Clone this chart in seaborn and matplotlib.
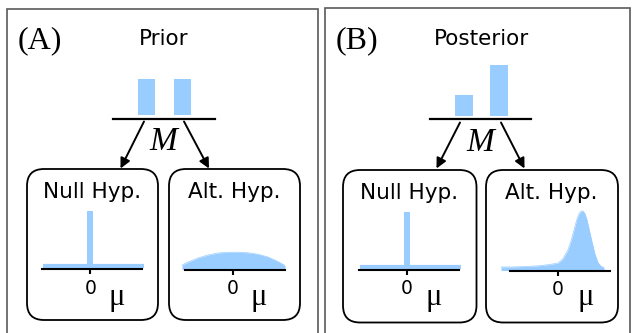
import matplotlib
matplotlib.use("Agg")
import matplotlib.pyplot as plt
from matplotlib.patches import FancyBboxPatch, FancyArrowPatch
import seaborn as sns

# ---- model probabilities (bars above "M") ----
model_labels = ["Null", "Alt"]
prior_probs = [0.5, 0.5]
posterior_probs = [0.29, 0.71]

# ---- null hypothesis: point mass at mu = 0, zero density elsewhere ----
null_grid = [-2.35, 2.7]
null_density = [0.0, 0.0]
null_spike_mu = [0.0]
null_spike_mass = [1.0]

# ---- alternative hypothesis, prior density over mu ----
alt_prior_mu = [-2.55, -2.25, -1.75, -1.25, -0.75, -0.25, 0.25, 0.75, 1.25, 1.75, 2.25, 2.6]
alt_prior_density = [0.027, 0.081, 0.154, 0.208, 0.244, 0.258, 0.258, 0.248, 0.222, 0.172, 0.090, 0.018]

# ---- alternative hypothesis, posterior density over mu ----
alt_post_mu = [-2.85, -2.25, -1.5, -1.0, -0.5, 0.0, 0.25, 0.5, 0.65, 0.8, 0.95, 1.05,
               1.15, 1.25, 1.35, 1.45, 1.55, 1.7, 1.85, 2.0, 2.15, 2.3]
alt_post_density = [0.01, 0.01, 0.02, 0.03, 0.05, 0.08, 0.16, 0.32, 0.48, 0.68, 0.88, 0.97,
                     1.02, 1.02, 0.97, 0.86, 0.70, 0.46, 0.24, 0.09, 0.02, 0.0]

BLUE = "#99ccff"
W, H = 632, 333

sns.set_style("white")
plt.rcParams["font.family"] = ["DejaVu Sans"]
plt.rcParams["text.color"] = "black"
plt.rcParams["xtick.color"] = "black"

fig = plt.figure(figsize=(W / 100, H / 100), dpi=100)

# overlay in pixel coordinates for frames, boxes, arrows and labels
ov = fig.add_axes([0, 0, 1, 1])
ov.set_xlim(0, W)
ov.set_ylim(H, 0)
ov.axis("off")


def px_axes(x0, y0, x1, y1):
    a = fig.add_axes([x0 / W, 1 - y1 / H, (x1 - x0) / W, (y1 - y0) / H])
    a.patch.set_visible(False)
    return a


# panel frames
frame_kw = dict(color="#5a5a5a", lw=1.2, solid_joinstyle="miter")
ov.plot([7, 7, 318, 318], [345, 9, 9, 345], **frame_kw)
ov.plot([325, 325, 630, 630], [345, 8, 8, 345], **frame_kw)

serif = ["Liberation Serif", "DejaVu Serif"]
ov.text(39.5, 48.5, "(A)", family=serif, fontsize=23, ha="center", va="baseline")
ov.text(357, 48.5, "(B)", family=serif, fontsize=23, ha="center", va="baseline")
ov.text(164, 45, "Prior", fontsize=15.5, ha="center", va="baseline")
ov.text(481, 45, "Posterior", fontsize=15.5, ha="center", va="baseline")
ov.text(163, 150, "M", family=serif, style="italic", fontsize=24, ha="center", va="baseline")
ov.text(480, 151, "M", family=serif, style="italic", fontsize=24, ha="center", va="baseline")

# arrows from the model node to the hypothesis boxes
for (x0, y0), (x1, y1) in [((144, 121.5), (120.5, 168.5)), ((184, 121.5), (209, 168.5)),
                           ((460, 122.5), (436.5, 168.5)), ((501, 122.5), (524.5, 168.5))]:
    ov.add_patch(FancyArrowPatch((x0, y0), (x1, y1), arrowstyle="-|>", mutation_scale=15,
                                 lw=1.4, color="black", shrinkA=0, shrinkB=0))

# rounded hypothesis boxes
for x0, y0, x1, y1 in [(27, 169, 158, 320), (169, 169, 300, 320),
                       (343, 170, 476.5, 322.5), (486, 170, 618, 322.5)]:
    ov.add_patch(FancyBboxPatch((x0, y0), x1 - x0, y1 - y0,
                                boxstyle="round,pad=0,rounding_size=17",
                                fc="none", ec="black", lw=1.3))

for cx, y, txt in [(92, 198, "Null Hyp."), (234, 198, "Alt. Hyp."),
                   (409.5, 199, "Null Hyp."), (551, 199, "Alt. Hyp.")]:
    ov.text(cx, y, txt, fontsize=15.5, ha="center", va="baseline")

for cx, cy in [(117, 297), (259, 297), (434, 297), (586, 297)]:
    ov.text(cx, cy, "\u03bc", family=serif, fontsize=22, ha="center", va="center")


# ---- model probability bars ----
BAR_PX = 72.0


def bar_panel(x0, x1, c0, c1, base_y, gap_px, probs):
    a = px_axes(x0, 60, x1, base_y)
    sns.barplot(x=model_labels, y=probs, color=BLUE, saturation=1, width=0.49,
                linewidth=0, ax=a)
    unit = c1 - c0
    a.set_xlim(-(c0 - x0) / unit, 1 + (x1 - c1) / unit)
    lo = -gap_px / BAR_PX
    a.set_ylim(lo, lo + (base_y - 60) / BAR_PX)
    a.set_xlabel("")
    a.set_ylabel("")
    a.set_xticks([])
    a.set_yticks([])
    for s in ["top", "left", "right"]:
        a.spines[s].set_visible(False)
    a.spines["bottom"].set_color("black")
    a.spines["bottom"].set_linewidth(1.6)


bar_panel(113, 215, 146.5, 182.5, 119.3, 4.0, prior_probs)
bar_panel(430, 531, 464, 499, 119.3, 3.3, posterior_probs)

# ---- density panels ----
MU_PX = 20.0
DEN_PX = 55.3
LIFT = 3.0


def density_axes(x0, x1, tick_x, base_y):
    a = px_axes(x0, 205, x1, base_y)
    a.set_xlim((x0 - tick_x) / MU_PX, (x1 - tick_x) / MU_PX)
    lo = -LIFT / DEN_PX
    a.set_ylim(lo, lo + (base_y - 205) / DEN_PX)
    for s in ["top", "left", "right"]:
        a.spines[s].set_visible(False)
    sp = a.spines["bottom"]
    sp.set_color("black")
    sp.set_linewidth(1.5)
    sp.set_bounds(-2.4, 2.6)
    sp.set_zorder(5)
    a.set_yticks([])
    a.set_xticks([0])
    a.set_xticklabels(["0"])
    a.tick_params(axis="x", direction="inout", length=6.5, width=1.5, color="black",
                  pad=3.5, labelsize=13.5, labelcolor="black", bottom=True)
    a.set_xlabel("")
    a.set_ylabel("")
    return a


def null_panel(x0, x1, tick_x, base_y):
    a = density_axes(x0, x1, tick_x, base_y)
    sns.lineplot(x=null_grid, y=null_density, color=BLUE, lw=3.0, ax=a,
                 solid_capstyle="butt")
    a.bar(null_spike_mu, null_spike_mass, width=0.28, color=BLUE, linewidth=0)
    a.set_xlabel("")
    a.set_ylabel("")


def alt_panel(x0, x1, tick_x, base_y, mu, dens):
    a = density_axes(x0, x1, tick_x, base_y)
    sns.lineplot(x=mu, y=dens, color=BLUE, lw=0.5, ax=a)
    a.fill_between(mu, dens, a.get_ylim()[0], color=BLUE, linewidth=0)
    a.set_xlabel("")
    a.set_ylabel("")


null_panel(36, 150, 90.3, 269.3)
alt_panel(176, 292, 233, 269.5, alt_prior_mu, alt_prior_density)
null_panel(352, 466, 407, 270)
alt_panel(496, 616, 558, 270.5, alt_post_mu, alt_post_density)

fig.savefig("out.png", dpi=100)
